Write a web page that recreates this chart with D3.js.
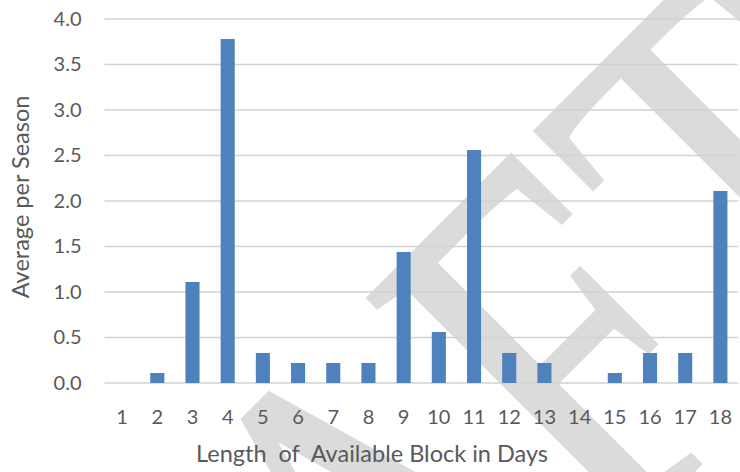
<!DOCTYPE html>
<html>
<head>
<meta charset="utf-8">
<script src="https://cdn.jsdelivr.net/npm/d3@7"></script>
<style>
  html, body { margin: 0; padding: 0; background: #ffffff; }
  svg { display: block; }
  text { font-family: "Lato", "Open Sans", sans-serif; fill: #595959; }
</style>
</head>
<body>
<svg id="chart" width="740" height="472"></svg>
<script>
// ---- data ----
const categories = ["1","2","3","4","5","6","7","8","9","10","11","12","13","14","15","16","17","18"];
const values = [0, 0.11, 1.11, 3.78, 0.33, 0.22, 0.22, 0.22, 1.44, 0.56, 2.56, 0.33, 0.22, 0, 0.11, 0.33, 0.33, 2.11];
const yTicks = [0, 0.5, 1.0, 1.5, 2.0, 2.5, 3.0, 3.5, 4.0];
const xTitle = "Length  of  Available Block in Days";
const yTitle = "Average per Season";
const watermarkParts = ["DRA", "F", "T"];

const svg = d3.select("#chart");
const plot = { left: 104.5, right: 738, top: 19, bottom: 383 };

// watermark (behind the chart)
const wm = svg.append("text")
  .attr("transform", "translate(-4,1169) rotate(-45) scale(1,1.3)")
  .style("font-family", "'Liberation Serif', 'DejaVu Serif', serif")
  .style("font-size", "415px")
  .style("fill", "#dbdbdb")
  .style("stroke", "#dbdbdb")
  .style("stroke-width", "2px");
wm.append("tspan").text(watermarkParts[0]);
wm.append("tspan").attr("dx", -10).text(watermarkParts[1]);
wm.append("tspan").attr("dx", 10).text(watermarkParts[2]);

const x = d3.scaleBand()
  .domain(categories)
  .range([plot.left, plot.right])
  .paddingInner(0.6)
  .paddingOuter(0.3);

const y = d3.scaleLinear()
  .domain([0, 4])
  .range([plot.bottom, plot.top]);

// gridlines
svg.append("g")
  .selectAll("line")
  .data(yTicks)
  .join("line")
  .attr("x1", plot.left)
  .attr("x2", plot.right)
  .attr("y1", d => y(d))
  .attr("y2", d => y(d))
  .attr("stroke", "#d2d2d2")
  .attr("stroke-width", 1.4);

// bars
svg.append("g")
  .selectAll("rect")
  .data(values)
  .join("rect")
  .attr("x", (d, i) => x(categories[i]))
  .attr("width", x.bandwidth())
  .attr("y", d => y(d))
  .attr("height", d => y(0) - y(d))
  .attr("fill", "#4f81bd");

// y axis
const yAxis = svg.append("g")
  .attr("transform", `translate(${plot.left},0)`)
  .call(d3.axisLeft(y).tickValues(yTicks).tickFormat(d3.format(".1f")).tickSize(0).tickPadding(23));
yAxis.select(".domain").remove();
yAxis.selectAll("text").style("font-size", "20px").style("font-family", "Lato, 'Open Sans', sans-serif").attr("fill", "#595959");

// x axis
const xAxis = svg.append("g")
  .attr("transform", `translate(0,${plot.bottom})`)
  .call(d3.axisBottom(x).tickSize(0).tickPadding(27));
xAxis.select(".domain").remove();
xAxis.selectAll("text").style("font-size", "20px").style("font-family", "Lato, 'Open Sans', sans-serif").attr("fill", "#595959");

// axis titles
svg.append("text")
  .attr("x", 372)
  .attr("y", 462)
  .attr("text-anchor", "middle")
  .style("font-size", "23.5px")
  .style("white-space", "pre")
  .text(xTitle);

svg.append("text")
  .attr("transform", "translate(29,197) rotate(-90)")
  .attr("text-anchor", "middle")
  .style("font-size", "23.5px")
  .text(yTitle);
</script>
</body>
</html>
